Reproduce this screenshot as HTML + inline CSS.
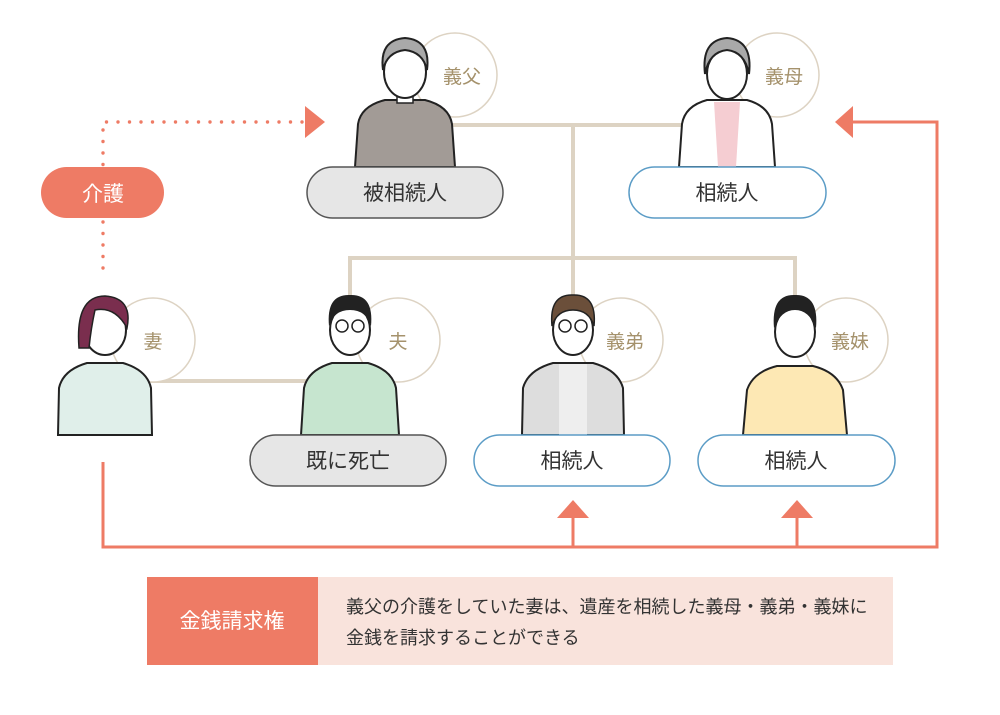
<!DOCTYPE html>
<html><head><meta charset="utf-8"><style>
html,body{margin:0;padding:0;background:#fff;}
svg{display:block;font-family:"Liberation Sans","Noto Sans CJK JP",sans-serif;}
</style></head><body>
<svg width="1000" height="715" viewBox="0 0 1000 715" xmlns="http://www.w3.org/2000/svg">
<g stroke="#ddd3c3" stroke-width="4" fill="none">
<line x1="440" y1="125" x2="700" y2="125"/>
<line x1="573" y1="125" x2="573" y2="300"/>
<polyline points="350,300 350,258 795,258 795,300"/>
<line x1="150" y1="381" x2="310" y2="381"/>
</g>
<g fill="#fff" stroke="#ddd3c3" stroke-width="1.5">
<circle cx="455" cy="75" r="42"/><circle cx="777" cy="75" r="42"/>
<circle cx="153" cy="340" r="42"/><circle cx="398" cy="340" r="42"/>
<circle cx="621" cy="340" r="42"/><circle cx="846" cy="340" r="42"/>
</g>
<g fill="#a5926c" font-size="19" text-anchor="middle">
<text x="462" y="83">義父</text><text x="784" y="83">義母</text>
<text x="153" y="348">妻</text><text x="398" y="348">夫</text>
<text x="625" y="348">義弟</text><text x="850" y="348">義妹</text>
</g>
<g transform="translate(405,40)">
<path d="M-50,127 L-47,84 Q-44,66 -20,60 L20,60 Q44,66 47,84 L50,127 Z" fill="#a29b96" stroke="#222" stroke-width="2"/>
<rect x="-8" y="45" width="16" height="18" fill="#fff" stroke="#222" stroke-width="1.5"/>
<ellipse cx="0" cy="32" rx="21" ry="26" fill="#fff" stroke="#222" stroke-width="2"/>
<path d="M-22,30 Q-26,0 0,-2 Q26,0 22,30 Q18,12 0,10 Q-18,12 -22,30Z" fill="#a9a9a9" stroke="#222" stroke-width="2"/>
</g>
<g transform="translate(727,40)">
<path d="M-48,127 L-45,84 Q-42,66 -20,60 L20,60 Q42,66 45,84 L48,127 Z" fill="#fff" stroke="#222" stroke-width="2"/>
<path d="M-13,62 L13,62 L9,127 L-9,127Z" fill="#f5cdd2"/>
<ellipse cx="0" cy="34" rx="20" ry="25" fill="#fff" stroke="#222" stroke-width="2"/>
<path d="M-22,34 Q-26,0 0,-2 Q26,0 22,34 Q18,12 0,10 Q-18,12 -22,34Z" fill="#a9a9a9" stroke="#222" stroke-width="2"/>
</g>
<g transform="translate(105,308)">
<path d="M-47,127 L-46,80 Q-42,62 -18,55 L18,55 Q42,62 46,80 L47,127 Z" fill="#e0efea" stroke="#222" stroke-width="2"/>
<ellipse cx="0" cy="22" rx="21" ry="25" fill="#fff" stroke="#222" stroke-width="2"/>
<path d="M-26,40 Q-30,-12 0,-12 Q28,-10 22,20 Q10,-2 -10,2 Q-14,20 -16,40Z" fill="#7a2e4e" stroke="#222" stroke-width="1.5"/>
</g>
<g transform="translate(350,308)">
<path d="M-49,127 L-46,80 Q-42,62 -18,55 L18,55 Q42,62 46,80 L49,127 Z" fill="#c6e5cf" stroke="#222" stroke-width="2"/>
<ellipse cx="0" cy="22" rx="20" ry="25" fill="#fff" stroke="#222" stroke-width="2"/>
<path d="M-21,18 Q-24,-14 0,-13 Q24,-14 21,18 Q16,2 0,2 Q-16,2 -21,18Z" fill="#222"/>
<circle cx="-8" cy="18" r="6" fill="none" stroke="#222" stroke-width="1.5"/><circle cx="8" cy="18" r="6" fill="none" stroke="#222" stroke-width="1.5"/>
</g>
<g transform="translate(573,308)">
<path d="M-51,127 L-50,80 Q-45,62 -20,55 L20,55 Q45,62 50,80 L51,127 Z" fill="#ddd" stroke="#222" stroke-width="2"/>
<rect x="-14" y="56" width="28" height="71" fill="#eee"/>
<ellipse cx="0" cy="22" rx="20" ry="25" fill="#fff" stroke="#222" stroke-width="2"/>
<path d="M-21,18 Q-24,-14 0,-13 Q24,-14 21,18 Q16,2 0,2 Q-16,2 -21,18Z" fill="#6b4f3a" stroke="#222" stroke-width="1.5"/>
<circle cx="-8" cy="18" r="6" fill="none" stroke="#222" stroke-width="1.5"/><circle cx="8" cy="18" r="6" fill="none" stroke="#222" stroke-width="1.5"/>
</g>
<g transform="translate(795,308)">
<path d="M-52,127 L-48,82 Q-42,64 -18,58 L18,58 Q42,64 48,82 L52,127 Z" fill="#fde8b4" stroke="#222" stroke-width="2"/>
<ellipse cx="0" cy="24" rx="20" ry="25" fill="#fff" stroke="#222" stroke-width="2"/>
<path d="M-21,20 Q-24,-14 0,-13 Q24,-14 21,20 Q14,2 0,2 Q-14,2 -21,20Z" fill="#222"/>
</g>
<g stroke-width="1.5">
<rect x="307" y="167" width="196" height="51" rx="25.5" fill="#e6e6e6" stroke="#555"/>
<rect x="629" y="167" width="197" height="51" rx="25.5" fill="#fff" stroke="#5b9cc6"/>
<rect x="250" y="435" width="196" height="51" rx="25.5" fill="#e6e6e6" stroke="#555"/>
<rect x="474" y="435" width="196" height="51" rx="25.5" fill="#fff" stroke="#5b9cc6"/>
<rect x="698" y="435" width="197" height="51" rx="25.5" fill="#fff" stroke="#5b9cc6"/>
</g>
<g fill="#333" font-size="21" text-anchor="middle">
<text x="405" y="200">被相続人</text><text x="727" y="200">相続人</text>
<text x="348" y="468">既に死亡</text><text x="572" y="468">相続人</text><text x="796" y="468">相続人</text>
</g>
<g stroke="#ee7b65" stroke-width="3" fill="none">
<polyline points="103,462 103,547 937,547 937,122 850,122"/>
<line x1="573" y1="547" x2="573" y2="515"/>
<line x1="797" y1="547" x2="797" y2="515"/>
</g>
<g fill="#ee7b65">
<polygon points="835,122 853,106 853,138"/>
<polygon points="573,500 557,518 589,518"/>
<polygon points="797,500 781,518 813,518"/>
<polygon points="325,122 305,106 305,138"/>
</g>
<g stroke="#ee7b65" stroke-width="3.4" stroke-linecap="round" stroke-dasharray="0 11.5" fill="none">
<polyline points="103,268 103,122 303,122"/>
</g>
<rect x="41" y="167" width="123" height="51" rx="25.5" fill="#ee7b65"/>
<text x="103" y="201" fill="#fff" font-size="21" text-anchor="middle">介護</text>
<rect x="147" y="577" width="746" height="88" fill="#f9e3dc"/>
<rect x="147" y="577" width="171" height="88" fill="#ee7b65"/>
<text x="232" y="628" fill="#fff" font-size="21" text-anchor="middle">金銭請求権</text>
<text x="346" y="613" fill="#333" font-size="18">義父の介護をしていた妻は、遺産を相続した義母・義弟・義妹に</text>
<text x="346" y="644" fill="#333" font-size="18">金銭を請求することができる</text>
</svg>
</body></html>
